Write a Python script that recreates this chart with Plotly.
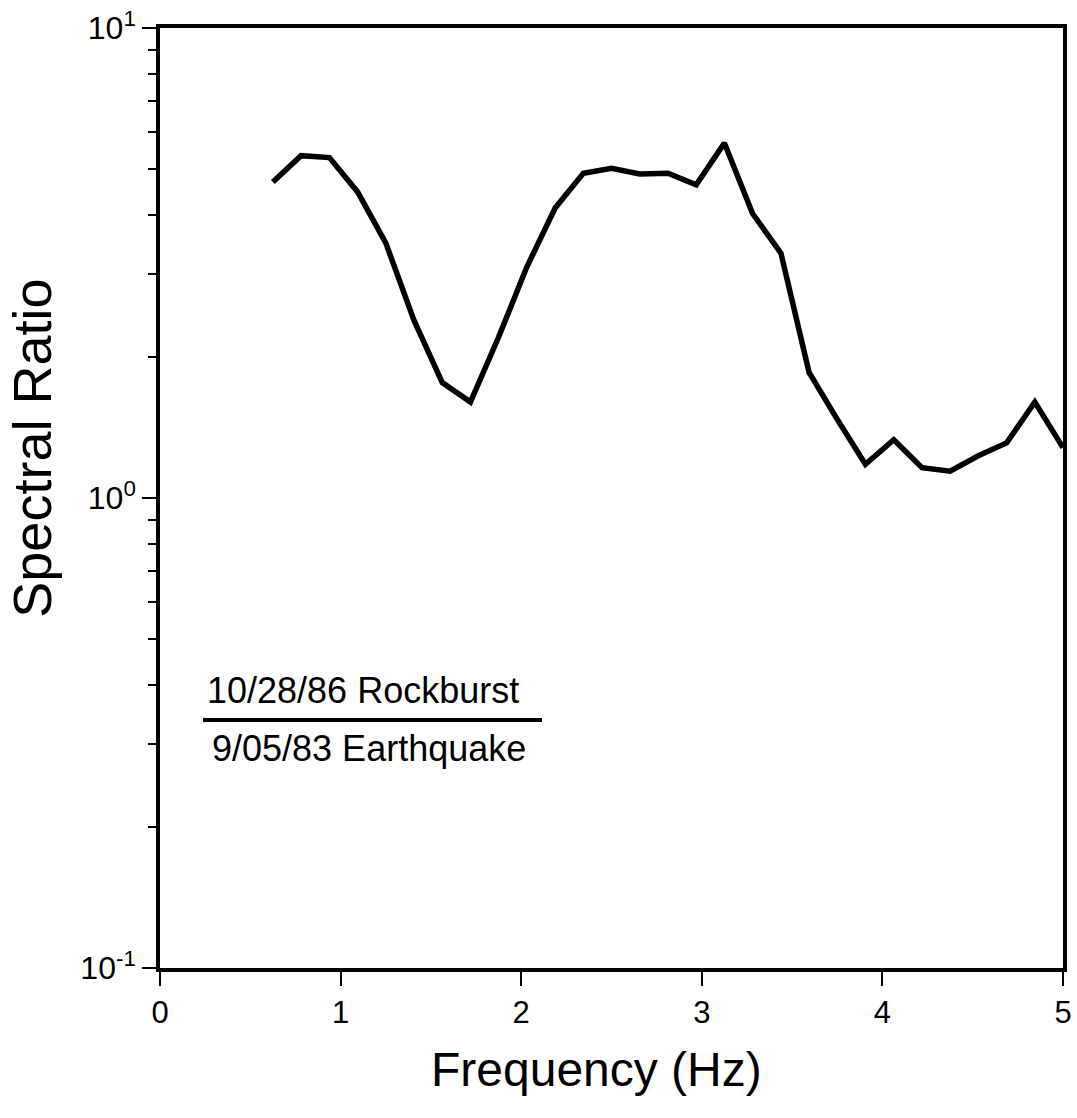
import plotly.graph_objects as go

# Spectral ratio, rockburst / earthquake
freq_hz = [0.625, 0.781, 0.938, 1.094, 1.25, 1.406, 1.563, 1.719, 1.875, 2.031,
           2.188, 2.344, 2.5, 2.656, 2.813, 2.969, 3.125, 3.281, 3.438, 3.594,
           3.75, 3.906, 4.063, 4.219, 4.375, 4.531, 4.688, 4.844, 5.0]
spectral_ratio = [4.70, 5.35, 5.30, 4.48, 3.49, 2.39, 1.76, 1.60, 2.20, 3.10,
                  4.14, 4.91, 5.03, 4.89, 4.91, 4.64, 5.69, 4.03, 3.32, 1.85,
                  1.47, 1.18, 1.33, 1.16, 1.14, 1.23, 1.31, 1.60, 1.28]

x_ticks = [0, 1, 2, 3, 4, 5]
y_ticks = [0.1, 1, 10]
y_tick_text = ['10<sup>-1</sup>', '10<sup>0</sup>', '10<sup>1</sup>']

FONT = 'Liberation Sans, Arial, Helvetica, sans-serif'

fig = go.Figure()
fig.add_trace(go.Scatter(x=freq_hz, y=spectral_ratio, mode='lines',
                         line=dict(color='black', width=5.5), showlegend=False))

fig.update_layout(
    width=1077, height=1118,
    paper_bgcolor='white', plot_bgcolor='white',
    font=dict(family=FONT, color='black'),
    margin=dict(l=160, r=14, t=28, b=150),
    xaxis=dict(range=[0, 5], tickvals=x_ticks, ticks='outside', ticklen=14, tickwidth=2,
               tickcolor='black', showgrid=False, zeroline=False, automargin=False,
               showline=True, linecolor='black', linewidth=3.5, mirror=True,
               tickfont=dict(family=FONT, size=31, color='black')),
    yaxis=dict(type='log', range=[-1, 1], tickvals=y_ticks, ticktext=y_tick_text,
               ticks='outside', ticklen=14, tickwidth=2, tickcolor='black',
               minor=dict(ticks='outside', dtick='D1', ticklen=8, tickwidth=2,
                          tickcolor='black', showgrid=False),
               showgrid=False, zeroline=False, automargin=False,
               showline=True, linecolor='black', linewidth=3.5, mirror=True,
               tickfont=dict(family=FONT, size=32, color='black')),
)

# axis titles (placed as annotations, they sit off-centre in the original)
fig.add_annotation(x=0.483, y=-0.1085, xref='paper', yref='paper', text='Frequency (Hz)',
                   showarrow=False, xanchor='center', yanchor='middle',
                   font=dict(family=FONT, size=48, color='black'))
fig.add_annotation(x=-0.1412, y=0.553, xref='paper', yref='paper', text='Spectral Ratio',
                   showarrow=False, xanchor='center', yanchor='middle', textangle=-90,
                   font=dict(family=FONT, size=54, color='black'))

# ratio label: numerator / bar / denominator
fig.add_annotation(x=0.2248, y=0.2947, xref='paper', yref='paper', text='10/28/86 Rockburst',
                   showarrow=False, xanchor='center', yanchor='middle',
                   font=dict(family=FONT, size=36, color='black'))
fig.add_annotation(x=0.2309, y=0.2335, xref='paper', yref='paper', text='9/05/83 Earthquake',
                   showarrow=False, xanchor='center', yanchor='middle',
                   font=dict(family=FONT, size=36, color='black'))
fig.add_shape(type='line', xref='paper', yref='paper', x0=0.0476, x1=0.423, y0=0.2638, y1=0.2638,
              line=dict(color='black', width=4))

# drop the browser's default body margin so the figure fills the window exactly
fig.write_html('out.html', config={'displayModeBar': False},
               post_script="document.body.style.margin='0';document.body.style.overflow='hidden';")
